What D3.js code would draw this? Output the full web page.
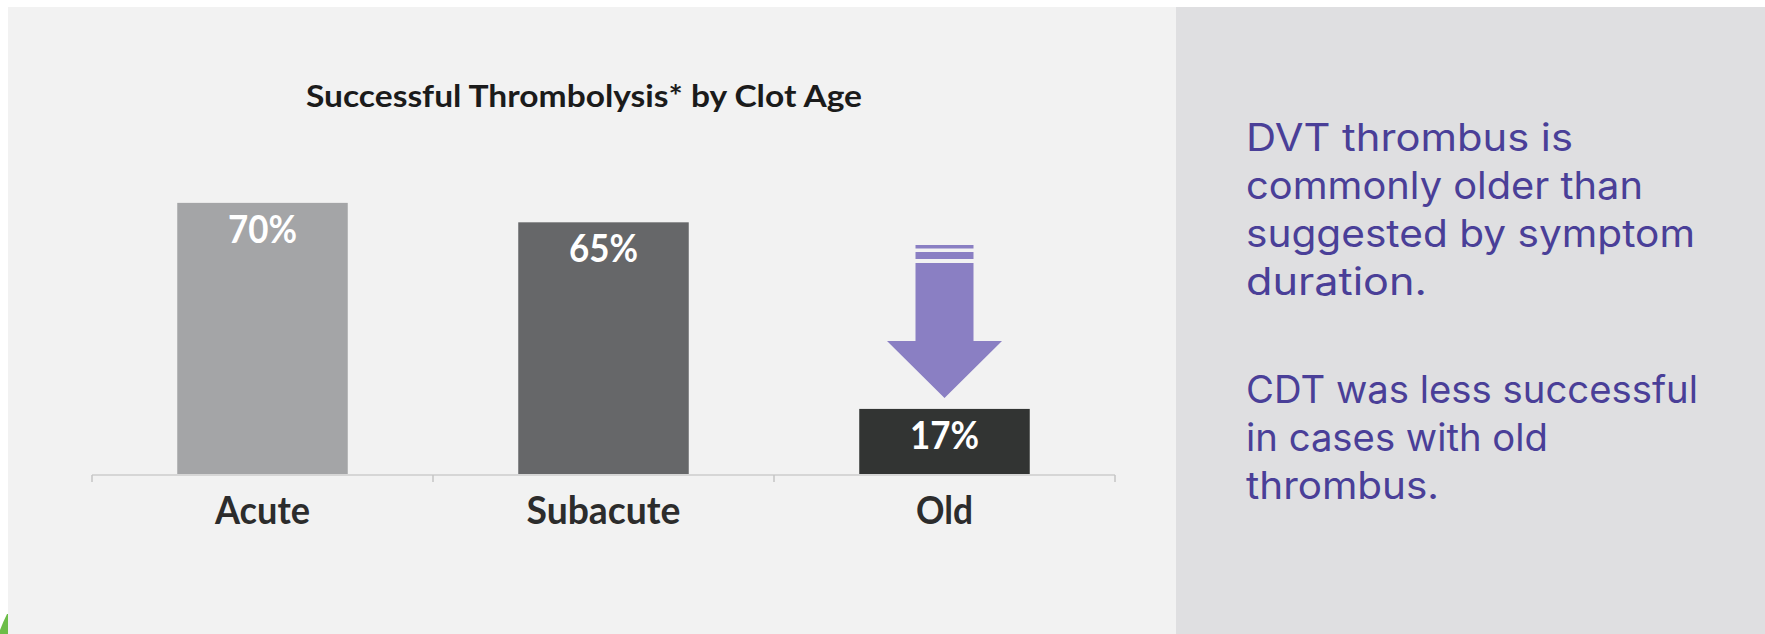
<!DOCTYPE html>
<html>
<head>
<meta charset="utf-8">
<script src="https://cdn.jsdelivr.net/npm/d3@7"></script>
<style>
  body { margin: 0; background: #fff; }
  svg { display: block; }
</style>
</head>
<body>
<div class="chart"></div>
<script>
var categories = ["Acute", "Subacute", "Old"];
var values = [70, 65, 17];
var valueLabels = ["70%", "65%", "17%"];
var barColors = ["#a4a5a7", "#666769", "#323433"];
var title = "Successful Thrombolysis* by Clot Age";
var notes1 = ["DVT thrombus is", "commonly older than", "suggested by symptom", "duration."];
var notes2 = ["CDT was less successful", "in cases with old", "thrombus."];

var W = 1765, H = 634;

var svg = d3.select(".chart")
    .append("svg")
    .attr("width", W)
    .attr("height", H)

// panels
svg.append("rect").attr("x", 8).attr("y", 7).attr("width", 1168).attr("height", H - 7).attr("fill", "#f2f2f2")
svg.append("rect").attr("x", 1176).attr("y", 7).attr("width", W - 1176).attr("height", H - 7).attr("fill", "#dfdfe1")

// little green corner mark
svg.append("path")
    .attr("d", "M7,614 Q3,622 0,630 L0,634 L8,634 L8,614 Z")
    .attr("fill", "#6cbd48")

var x = d3.scaleBand().domain(categories).range([92, 1115]).paddingInner(0.5).paddingOuter(0.25);
var y = d3.scaleLinear().domain([0, 80]).range([475, 164]);

var font = "Lato, 'Open Sans', sans-serif";

svg.append("text")
    .attr("x", 584)
    .attr("y", 107)
    .attr("text-anchor", "middle")
    .attr("font-family", font)
    .attr("font-weight", "bold")
    .style("font-size", "31px")
    .attr("fill", "#1b1b1b")
    .attr("textLength", 556)
    .attr("lengthAdjust", "spacingAndGlyphs")
    .text(title)

svg.selectAll("rect.bar")
    .data(values)
    .enter()
    .append("rect")
    .attr("class", "bar")
    .attr("x", function (d, i) { return x(categories[i]); })
    .attr("y", function (d) { return y(d); })
    .attr("width", x.bandwidth())
    .attr("height", function (d) { return y(0) - y(d); })
    .attr("fill", function (d, i) { return barColors[i]; })

svg.selectAll("text.val")
    .data(values)
    .enter()
    .append("text")
    .attr("class", "val")
    .attr("x", function (d, i) { return x(categories[i]) + x.bandwidth() / 2; })
    .attr("y", function (d) { return y(d) + 40; })
    .attr("text-anchor", "middle")
    .attr("font-family", font)
    .attr("font-weight", "bold")
    .style("font-size", "38px")
    .attr("fill", "#fff")
    .attr("textLength", 69)
    .attr("lengthAdjust", "spacingAndGlyphs")
    .text(function (d, i) { return valueLabels[i]; })

// axis line + ticks at band edges
var r = x.range();
svg.append("line")
    .attr("x1", r[0]).attr("x2", r[1])
    .attr("y1", y(0)).attr("y2", y(0))
    .attr("stroke", "#d6d6d6").attr("stroke-width", 2)
svg.selectAll("line.tick")
    .data(d3.range(categories.length + 1))
    .enter()
    .append("line")
    .attr("class", "tick")
    .attr("x1", function (i) { return r[0] + i * x.step(); })
    .attr("x2", function (i) { return r[0] + i * x.step(); })
    .attr("y1", y(0)).attr("y2", y(0) + 7)
    .attr("stroke", "#c4c4c4").attr("stroke-width", 1.5)

var labelWidths = [95, 154, 57];
var axis = svg.append("g")
    .attr("transform", "translate(0," + y(0) + ")")
    .call(d3.axisBottom(x).tickSize(0).tickPadding(21))
axis.select(".domain").remove()
axis.selectAll("text")
    .attr("font-family", font)
    .attr("font-weight", "bold")
    .style("font-size", "39px")
    .attr("fill", "#2c2c2c")
    .attr("dy", "0.71em")
    .attr("textLength", function (d, i) { return labelWidths[i]; })
    .attr("lengthAdjust", "spacingAndGlyphs")

// arrow over the Old bar
var cx = x("Old") + x.bandwidth() / 2;
var arrowColor = "#8a7fc3";
svg.append("rect").attr("x", cx - 29).attr("y", 245).attr("width", 58).attr("height", 3.5).attr("fill", arrowColor)
svg.append("rect").attr("x", cx - 29).attr("y", 252).attr("width", 58).attr("height", 7).attr("fill", arrowColor)
svg.append("path")
    .attr("d", "M" + (cx - 29) + ",263 H" + (cx + 29) + " V341 H" + (cx + 57.5) +
        " L" + cx + ",398 L" + (cx - 57.5) + ",341 H" + (cx - 29) + " Z")
    .attr("fill", arrowColor)

// notes on the right
var noteFont = "Inter, Lato, sans-serif";
var noteWidths1 = [327, 397, 449, 181];
var noteWidths2 = [452, 302, 193];
svg.selectAll("text.n1")
    .data(notes1)
    .enter()
    .append("text")
    .attr("class", "n1")
    .attr("x", 1246)
    .attr("y", function (d, i) { return 150.5 + i * 48.2; })
    .attr("font-family", noteFont)
    .style("font-size", "38px")
    .attr("fill", "#4a3f98")
    .attr("textLength", function (d, i) { return noteWidths1[i]; })
    .attr("lengthAdjust", "spacingAndGlyphs")
    .text(function (d) { return d; })

svg.selectAll("text.n2")
    .data(notes2)
    .enter()
    .append("text")
    .attr("class", "n2")
    .attr("x", 1246)
    .attr("y", function (d, i) { return 402.5 + i * 48.3; })
    .attr("font-family", noteFont)
    .style("font-size", "38px")
    .attr("fill", "#4a3f98")
    .attr("textLength", function (d, i) { return noteWidths2[i]; })
    .attr("lengthAdjust", "spacingAndGlyphs")
    .text(function (d) { return d; })
</script>
</body>
</html>
